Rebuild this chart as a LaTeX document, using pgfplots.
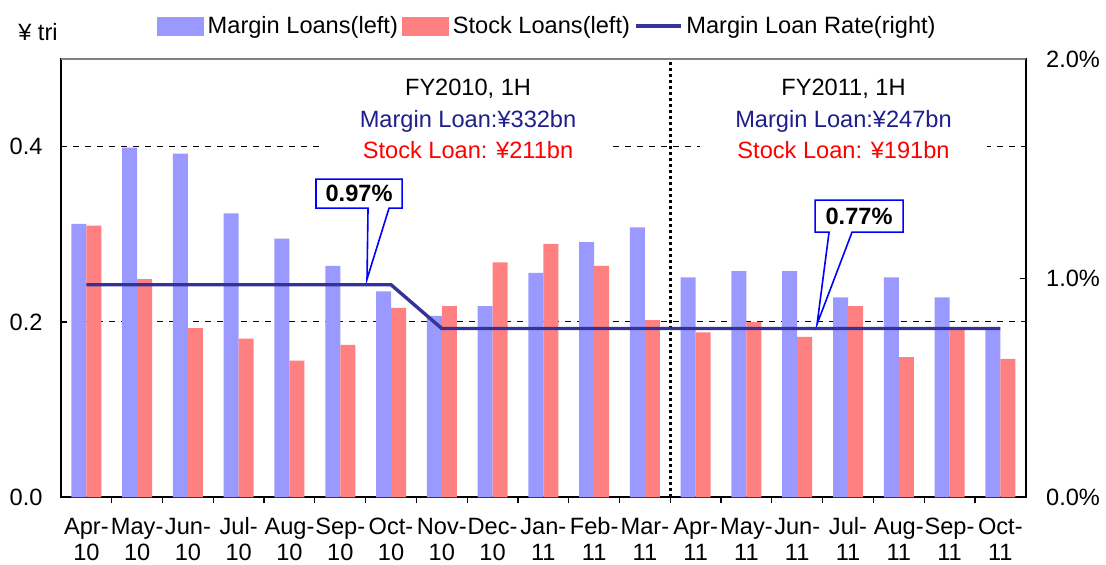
\documentclass[border=0pt]{standalone}
\usepackage{fontspec}
\setmainfont{Liberation Sans}
\usepackage{pgfplots}
\pgfplotsset{compat=1.18}
\definecolor{mblue}{RGB}{153,153,255}
\definecolor{sred}{RGB}{255,128,128}
\definecolor{rateblue}{RGB}{51,51,153}
\definecolor{navytxt}{RGB}{30,30,140}
\definecolor{calloutblue}{RGB}{0,0,255}
\newcommand{\chartfont}{\fontsize{11.8}{13}\selectfont}
\newcommand{\s}{\rule[-3pt]{0pt}{12.5pt}}

% margin loans / stock loans (tri yen), margin loan rate (%)
\pgfplotstableread{
x  margin stock rate
0  0.312  0.310 0.97
1  0.399  0.249 0.97
2  0.392  0.193 0.97
3  0.324  0.181 0.97
4  0.295  0.156 0.97
5  0.264  0.174 0.97
6  0.235  0.216 0.97
7  0.207  0.218 0.77
8  0.218  0.268 0.77
9  0.256  0.289 0.77
10 0.291  0.264 0.77
11 0.308  0.202 0.77
12 0.251  0.188 0.77
13 0.258  0.200 0.77
14 0.258  0.183 0.77
15 0.228  0.218 0.77
16 0.251  0.160 0.77
17 0.228  0.192 0.77
18 0.192  0.158 0.77
}\loans

\pgfplotsset{
  frame/.style={
    at={(0,0)}, anchor=south west,
    scale only axis, width=482.35pt, height=219.15pt,
    xmin=-0.5, xmax=18.5,
    tick align=inside,
    major tick length=3pt, minor tick length=3pt,
    tick style={black, line width=0.6pt},
    axis line style={black, line width=0.8pt},
    tick label style={font=\chartfont},
  }
}

\begin{document}
\begin{tikzpicture}
\begin{axis}[
  frame,
  ymin=0, ymax=0.5,
  ybar=0pt, bar width=7.5pt,
  xtick={0,...,18},
  xticklabels={{\s Apr-\\\s 10},{\s May-\\\s 10},{\s Jun-\\\s 10},{\s Jul-\\\s 10},{\s Aug-\\\s 10},{\s Sep-\\\s 10},{\s Oct-\\\s 10},{\s Nov-\\\s 10},{\s Dec-\\\s 10},{\s Jan-\\\s 11},{\s Feb-\\\s 11},{\s Mar-\\\s 11},{\s Apr-\\\s 11},{\s May-\\\s 11},{\s Jun-\\\s 11},{\s Jul-\\\s 11},{\s Aug-\\\s 11},{\s Sep-\\\s 11},{\s Oct-\\\s 11}},
  xticklabel style={align=center, font=\fontsize{11.8}{13.25}\selectfont, yshift=-2.5pt},
  major x tick style={draw=none},
  minor xtick={0.5,1.5,...,17.5},
  xtick pos=bottom, ytick pos=left,
  ytick={0,0.2,0.4},
  yticklabels={0.0,0.2,0.4},
  yticklabel style={xshift=-5.7pt},
  ymajorgrids,
  grid style={black, line width=0.5pt, dash pattern=on 3pt off 3pt},
  clip=false,
  legend columns=3,
  legend style={draw=none, fill=none, at={(0.505,1.075)}, anchor=center,
    font=\chartfont, nodes={inner xsep=2pt}},
]
\addplot[fill=mblue, draw=none,
  legend image code/.code={\fill[mblue] (0pt,-4.75pt) rectangle (23.5pt,4.75pt);}]
  table[x=x, y=margin] {\loans};
\addlegendentry{Margin Loans(left)\hspace{9pt}}
\addplot[fill=sred, draw=none,
  legend image code/.code={\fill[sred] (0pt,-4.75pt) rectangle (23.5pt,4.75pt);}]
  table[x=x, y=stock] {\loans};
\addlegendentry{Stock Loans(left)\hspace{7pt}}
\addlegendimage{legend image code/.code={\draw[rateblue, line width=1.7pt] (0pt,0pt) -- (22.5pt,0pt);}}
\addlegendentry{Margin Loan Rate(right)}

% half-year divider
\draw[black, line width=1.5pt, dash pattern=on 1.5pt off 1.5pt]
  (axis cs:11.5,0) -- (axis cs:11.5,0.5);

% unit label
\node[font=\chartfont] at (axis cs:-0.953,0.5306) {¥ tri};

% half-year totals (white text boxes hide the grid)
\fill[white] (axis cs:4.70,0.379) rectangle (axis cs:10.37,0.485);
\fill[white] (axis cs:12.09,0.379) rectangle (axis cs:17.74,0.485);
\node[font=\chartfont] at (axis cs:7.517,0.4656) {FY2010, 1H};
\node[font=\chartfont, text=navytxt] at (axis cs:7.517,0.4291) {Margin Loan:¥332bn};
\node[font=\chartfont, text=red] at (axis cs:7.517,0.3960) {Stock Loan: ¥211bn};
\node[font=\chartfont] at (axis cs:14.912,0.4656) {FY2011, 1H};
\node[font=\chartfont, text=navytxt] at (axis cs:14.912,0.4291) {Margin Loan:¥247bn};
\node[font=\chartfont, text=red] at (axis cs:14.912,0.3960) {Stock Loan: ¥191bn};

% callouts
\draw[calloutblue, line width=0.8pt, fill=white]
  (axis cs:4.523,0.3629) -- (axis cs:6.217,0.3629) -- (axis cs:6.217,0.3299)
  -- (axis cs:5.961,0.3299) -- (axis cs:5.527,0.2489) -- (axis cs:5.547,0.3299)
  -- (axis cs:4.523,0.3299) -- cycle;
\node[font=\chartfont\bfseries] at (axis cs:5.370,0.3462) {0.97\%};
\draw[calloutblue, line width=0.8pt, fill=white]
  (axis cs:14.351,0.3390) -- (axis cs:16.085,0.3390) -- (axis cs:16.085,0.3025)
  -- (axis cs:15.080,0.3025) -- (axis cs:14.391,0.1976) -- (axis cs:14.627,0.3025)
  -- (axis cs:14.351,0.3025) -- cycle;
\node[font=\chartfont\bfseries] at (axis cs:15.218,0.3208) {0.77\%};
\end{axis}

\begin{axis}[
  frame,
  ymin=0, ymax=2,
  axis x line=none, axis y line*=right,
  y axis line style={-},
  ytick={0,1,2},
  yticklabels={0.0\%,1.0\%,2.0\%},
  yticklabel style={xshift=6.7pt},
]
\addplot[rateblue, line width=1.7pt, mark=none] table[x=x, y=rate] {\loans};
\draw[gray, line width=0.8pt] (rel axis cs:0,1) -- (rel axis cs:1,1);
\end{axis}

\pgfresetboundingbox
\path[use as bounding box] (-30.5pt,-33.85pt) rectangle (522.5pt,248.65pt);
\end{tikzpicture}
\end{document}
